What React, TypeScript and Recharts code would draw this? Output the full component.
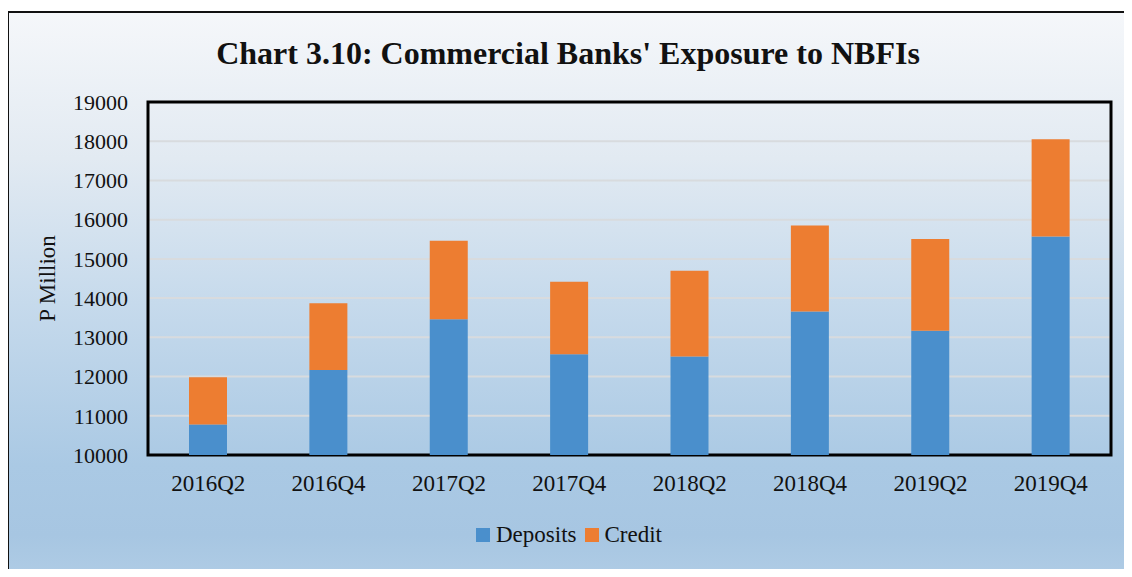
import { BarChart, Bar, XAxis, YAxis, CartesianGrid, ReferenceArea } from 'recharts';

const quarters = ['2016Q2', '2016Q4', '2017Q2', '2017Q4', '2018Q2', '2018Q4', '2019Q2', '2019Q4'];
const deposits = [10780, 12170, 13460, 12570, 12510, 13660, 13170, 15570];
const credit = [1200, 1700, 2000, 1850, 2190, 2190, 2340, 2480];
const yTicks = [10000, 11000, 12000, 13000, 14000, 15000, 16000, 17000, 18000, 19000];

const series = [
  { key: 'deposits', name: 'Deposits', color: '#4a8fcc' },
  { key: 'credit', name: 'Credit', color: '#ed7d31' },
];

const data = quarters.map((q, i) => ({ quarter: q, deposits: deposits[i], credit: credit[i] }));

const serif = '"Liberation Serif", "DejaVu Serif", serif';

const App = () => {
  return (
    <div style={{ position: 'relative', width: 1132, height: 577, margin: -8, overflow: 'hidden', fontFamily: serif }}>
      {/* outer chart frame with Excel-style gradient */}
      <div
        style={{
          position: 'absolute',
          left: 7,
          top: 11,
          width: 1140,
          height: 580,
          borderLeft: '2px solid #111',
          borderTop: '2px solid #111',
          background: 'linear-gradient(to bottom, #f5f7fa 0%, #e2eaf2 25%, #c6daec 50%, #aac9e4 78%, #a7c6e2 90%, #b2cee6 100%)',
        }}
      />
      <div
        style={{
          position: 'absolute',
          top: 35,
          left: 0,
          width: 1136,
          textAlign: 'center',
          fontSize: 32,
          fontWeight: 'bold',
          color: '#111',
        }}
      >
        Chart 3.10: Commercial Banks' Exposure to NBFIs
      </div>
      <div style={{ position: 'absolute', left: 0, top: 0 }}>
        <BarChart
          width={1132}
          height={577}
          data={data}
          margin={{ top: 102, right: 21, left: 0, bottom: 0 }}
          barSize={38}
        >
          <CartesianGrid vertical={false} stroke="#d8dbde" strokeWidth={2} />
          <XAxis
            dataKey="quarter"
            height={122}
            axisLine={false}
            tickLine={false}
            tickSize={6}
            tickMargin={14}
            tick={{ fill: '#111', fontSize: 23, fontFamily: serif }}
          />
          <YAxis
            type="number"
            domain={[10000, 19000]}
            ticks={yTicks}
            allowDataOverflow
            width={148}
            axisLine={false}
            tickLine={false}
            tickSize={6}
            tickMargin={14}
            tick={{ fill: '#111', fontSize: 22, fontFamily: serif }}
            label={{
              value: 'P Million',
              angle: -90,
              position: 'insideLeft',
              offset: 47,
              style: { textAnchor: 'middle', fill: '#111', fontSize: 23, fontFamily: serif },
            }}
          />
          <ReferenceArea y1={10000} y2={19000} fill="none" stroke="#000" strokeWidth={3} ifOverflow="visible" />
          {series.map((s) => (
            <Bar key={s.key} dataKey={s.key} name={s.name} stackId="a" fill={s.color} isAnimationActive={false} />
          ))}
        </BarChart>
      </div>
      {/* legend */}
      <div
        style={{
          position: 'absolute',
          top: 522,
          left: 0,
          width: 1146,
          display: 'flex',
          justifyContent: 'center',
          alignItems: 'center',
          fontSize: 23,
          color: '#111',
        }}
      >
        {series.map((s) => (
          <div key={s.key} style={{ display: 'flex', alignItems: 'center', marginRight: 8 }}>
            <span style={{ display: 'inline-block', width: 14, height: 14, background: s.color, marginRight: 6 }} />
            <span>{s.name}</span>
          </div>
        ))}
      </div>
    </div>
  );
};

export default App;
